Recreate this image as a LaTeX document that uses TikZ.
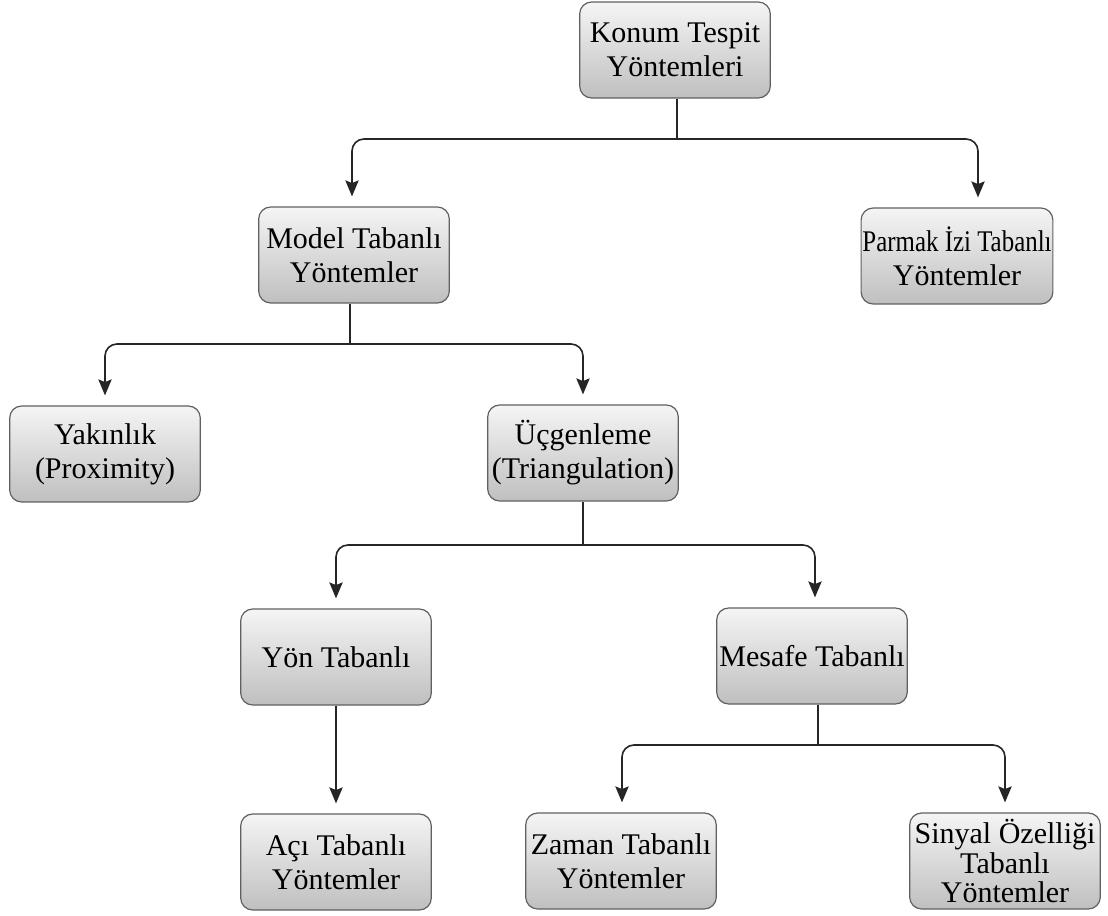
\documentclass[tikz,border=0pt]{standalone}
\usepackage{fontspec}
\setmainfont{Liberation Serif}
\usetikzlibrary{arrows.meta,calc}
\begin{document}
\begin{tikzpicture}[x=0.75pt,y=-0.75pt,
  box/.style={draw=gray!75!black, line width=0.9pt, rounded corners=9pt,
    top color=gray!8, bottom color=gray!50, minimum width=143pt,
    minimum height=72pt, align=center, inner sep=1pt,
    font=\fontsize{22.5}{25.5}\selectfont},
  tight/.style={font=\fontsize{22.5}{22}\selectfont},
  link/.style={draw=black!85, line width=1.2pt},
  arr/.style={link, rounded corners=9pt, shorten >=7.5pt,
    -{Stealth[width=10pt,length=12pt,inset=2pt]}}]
\useasboundingbox (0,0) rectangle (1108,916);

% tree nodes
\node[box] (konum)  at (675,50)  {Konum Tespit\\Yöntemleri};
\node[box] (model)  at (354,255) {Model Tabanlı\\Yöntemler};
\node[box] (parmak) at (957,256) {\scalebox{0.83}[1]{Parmak İzi Tabanlı}\\Yöntemler};
\node[box] (yakin)  at (105,454) {Yakınlık\\(Proximity)};
\node[box] (ucgen)  at (583,453) {Üçgenleme\\(Triangulation)};
\node[box] (yon)    at (336,657) {Yön Tabanlı};
\node[box] (mesafe) at (812,656) {Mesafe Tabanlı};
\node[box] (aci)    at (336,862) {Açı Tabanlı\\Yöntemler};
\node[box] (zaman)  at (621,861) {Zaman Tabanlı\\Yöntemler};
\node[box,tight] (sinyal) at (1005,861) {Sinyal Özelliği\\Tabanlı\\Yöntemler};

% junction points of the branching connectors
\coordinate (j1) at (677,139);
\coordinate (j2) at (350,344);
\coordinate (j3) at (583,545);
\coordinate (j4) at (818,745);

\draw[link] (j1 |- konum.south) -- (j1);
\draw[arr] (j1) -| ($(model.north)+(-2,0)$);
\draw[arr] (j1) -| ($(parmak.north)+(21,0)$);

\draw[link] (j2 |- model.south) -- (j2);
\draw[arr] (j2) -| (yakin.north);
\draw[arr] (j2) -| (ucgen.north);

\draw[link] (j3 |- ucgen.south) -- (j3);
\draw[arr] (j3) -| (yon.north);
\draw[arr] (j3) -| ($(mesafe.north)+(3,0)$);

\draw[arr] (yon.south) -- (aci.north);

\draw[link] (j4 |- mesafe.south) -- (j4);
\draw[arr] (j4) -| ($(zaman.north)+(1,0)$);
\draw[arr] (j4) -| (sinyal.north);
\end{tikzpicture}
\end{document}
